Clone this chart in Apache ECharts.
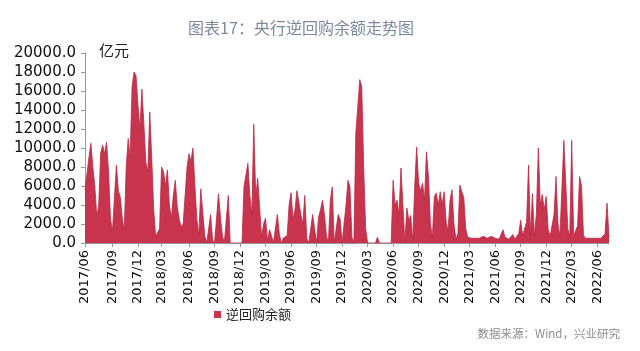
<!DOCTYPE html>
<html>
<head>
<meta charset="utf-8">
<script src="https://cdn.jsdelivr.net/npm/echarts@6/dist/echarts.min.js"></script>
<style>
  html, body { margin: 0; padding: 0; background: #fff; }
  #chart { width: 640px; height: 351px; }
</style>
</head>
<body>
<div id="chart"></div>
<script>
// weekly samples, first one on 2017-06-01 (亿元)
const startDate = '2017-06-01'
const quarterMonths = [3, 6, 9, 12]
const balance = [
  5600, 5500, 9000, 10500, 8000, 6000, 2800, 4000, 9500, 10300,
  9400, 10600, 7500, 2500, 1300, 1200, 8200, 5500, 4800, 2600,
  1300, 8000, 11000, 9000, 16500, 18000, 17600, 14500, 12000, 16200,
  12500, 8500, 7500, 13800, 9000, 3500, 700, 650, 1500, 8000,
  7500, 6000, 7700, 4000, 2600, 5000, 6600, 3800, 2500, 1700,
  2000, 5000, 8000, 9400, 8600, 10000, 6000, 2500, 800, 5700,
  5600, 800, 0, 1500, 3000, 300, 0, 2500, 5200, 2800,
  800, 0, 0, 5000, 0, 0, 0, 0, 0, 0,
  0, 5900, 5800, 8400, 5000, 3000, 12500, 4900, 6800, 6800,
  600, 2000, 2600, 200, 1400, 800, 0, 0, 3000, 1000,
  0, 500, 400, 800, 4000, 5300, 2500, 3500, 5500, 5600,
  3000, 2000, 5000, 500, 0, 1500, 3000, 1500, 0, 2700,
  3500, 4500, 3000, 800, 0, 4500, 5900, 0, 0, 3000,
  2500, 0, 0, 4000, 6600, 5900, 600, 0, 11600, 11500,
  17200, 16500, 8000, 1500, 0, 0, 0, 0, 0, 600,
  0, 0, 0, 0, 0, 0, 0, 6600, 4000, 4500,
  3000, 7900, 4000, 0, 3700, 2400, 2900, 200, 6000, 10100,
  6300, 5500, 6300, 4500, 9600, 7000, 2000, 600, 4900, 5250,
  4000, 5400, 4000, 5400, 2200, 1300, 4500, 5600, 2000, 400,
  1000, 6100, 5400, 4800, 1500, 600, 500, 500, 500, 500,
  500, 500, 500, 700, 700, 500, 500, 700, 700, 500,
  400, 400, 400, 1400, 600, 400, 400, 400, 900, 400,
  400, 1000, 2400, 800, 600, 2200, 8200, 800, 5200, 700,
  3100, 10000, 4000, 5100, 3500, 4900, 1400, 700, 700, 3000,
  7000, 2000, 700, 700, 10800, 10800, 1500, 700, 10800, 800,
  600, 1800, 7000, 6000, 800, 500, 500, 500, 500, 500,
  500, 500, 500, 500, 500, 1000, 4200, 600
]

const dates = balance.map((_, i) => {
  const d = new Date(startDate + 'T00:00:00Z')
  d.setUTCDate(d.getUTCDate() + 7 * i)
  return d
})
const categories = dates.map(d => d.toISOString().slice(0, 10))
const isQuarterStart = idx => {
  const d = dates[idx]
  return quarterMonths.includes(d.getUTCMonth() + 1) && d.getUTCDate() <= 7
}

const chart = echarts.init(document.getElementById('chart'))
chart.setOption({
  animation: false,
  title: {
    text: '图表17：央行逆回购余额走势图',
    left: 296,
    textAlign: 'center',
    top: 15,
    textStyle: { fontSize: 16, fontWeight: 'normal', color: '#7b8a9b', fontFamily: 'Noto Sans CJK SC' }
  },
  graphic: [
    {
      type: 'text', left: 99, top: 43,
      style: { text: '亿元', fontSize: 15, fill: '#222', fontFamily: 'Noto Sans CJK SC' }
    },
    {
      type: 'text', right: 20, top: 328,
      style: { text: '数据来源：Wind，兴业研究', fontSize: 11.5, fill: '#8c8c8c', fontFamily: 'Noto Sans CJK SC' }
    }
  ],
  legend: {
    data: ['逆回购余额'],
    left: 209,
    top: 303,
    icon: 'rect',
    itemWidth: 7,
    itemHeight: 7,
    itemGap: 7,
    textStyle: { fontSize: 13, color: '#222', fontFamily: 'Noto Sans CJK SC' }
  },
  grid: { left: 85, right: 31, top: 53, bottom: 108, containLabel: false },
  xAxis: {
    type: 'category',
    data: categories,
    boundaryGap: false,
    axisLine: { lineStyle: { color: '#999' } },
    axisTick: { interval: isQuarterStart, length: 4, lineStyle: { color: '#999' } },
    axisLabel: {
      interval: isQuarterStart,
      rotate: 90,
      margin: 7,
      fontSize: 13,
      color: '#111',
      fontFamily: 'DejaVu Sans',
      formatter: v => v.slice(0, 4) + '/' + v.slice(5, 7)
    },
    splitLine: { show: false }
  },
  yAxis: {
    type: 'value',
    min: 0,
    max: 20000,
    interval: 2000,
    axisLine: { show: true, lineStyle: { color: '#999' } },
    axisTick: { show: true, length: 4, lineStyle: { color: '#999' } },
    axisLabel: {
      fontSize: 15,
      color: '#111',
      margin: 9,
      fontFamily: 'DejaVu Sans',
      formatter: v => v.toFixed(1)
    },
    splitLine: { show: false }
  },
  series: [
    {
      name: '逆回购余额',
      type: 'line',
      data: balance,
      symbol: 'none',
      color: '#c8344e',
      lineStyle: { width: 0.8, color: '#b82a44' },
      areaStyle: { color: '#c8344e', opacity: 1 }
    }
  ]
})
</script>
</body>
</html>
